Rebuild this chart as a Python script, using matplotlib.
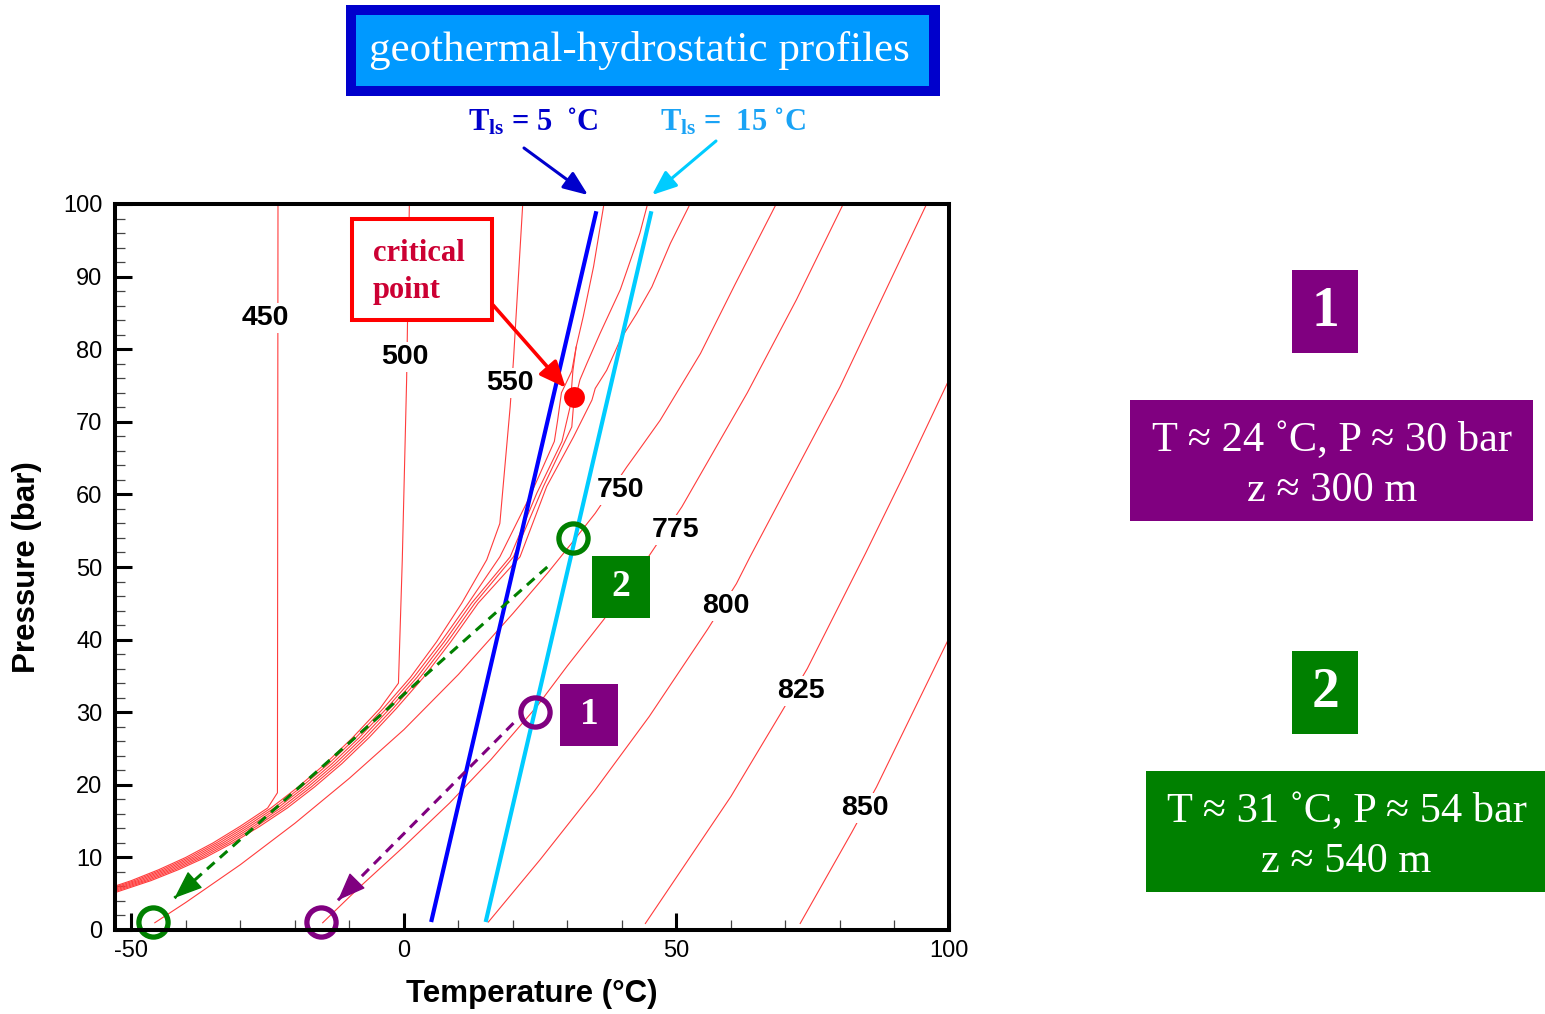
"""CO2 isenthalps in the P-T plane with two geothermal-hydrostatic profiles."""
import numpy as np
import matplotlib
matplotlib.use("Agg")
import matplotlib.pyplot as plt
from matplotlib.patches import Rectangle
from matplotlib.transforms import Affine2D

# isenthalps h [kJ/kg] as (T [degC], P [bar]) polylines
H450_T = [-23.1, -23.2, -25.0, -30.0, -35.0, -40.0, -45.0, -50.0, -60.0]
H450_P = [100.0, 18.9, 16.8, 14.3, 12.0, 10.0, 8.3, 6.8, 4.3]

H500_T = [1.0, 0.5, -0.3, -1.0, -4.4, -9.4, -14.4, -19.4, -24.4, -29.4, -34.4, -39.4,
          -44.4, -49.4, -59.4]
H500_P = [100.0, 75.8, 50.9, 34.0, 30.5, 26.5, 22.9, 19.7, 16.8, 14.3, 12.0, 10.0,
          8.3, 6.8, 4.3]

H550_T = [21.8, 20.1, 19.5, 17.6, 15.2, 10.6, 6.0, 1.2, -3.8, -8.8, -13.8, -18.8, -23.8,
          -28.8, -33.8, -38.8, -43.8, -48.8, -58.8]
H550_P = [100.0, 78.5, 72.1, 56.0, 51.0, 45.0, 39.7, 34.8, 30.5, 26.5, 22.9, 19.7, 16.8,
          14.3, 12.0, 10.0, 8.3, 6.8, 4.3]

H600_T = [36.7, 34.8, 32.9, 31.6, 30.8, 28.9, 28.2, 27.6, 23.1, 17.6, 11.8, 6.8, 1.8, -3.2,
          -8.2, -13.2, -18.2, -23.2, -28.2, -33.2, -38.2, -43.2, -48.2, -58.2]
H600_P = [100.0, 91.4, 84.5, 80.3, 77.0, 74.0, 70.2, 67.3, 59.7, 51.4, 45.0, 39.7, 34.8, 30.5,
          26.5, 22.9, 19.7, 16.8, 14.3, 12.0, 10.0, 8.3, 6.8, 4.3]

H625_T = [31.6, 31.0, 30.5, 29.0, 24.4, 19.5, 12.4, 7.4, 2.4, -2.6, -7.6, -12.6, -17.6,
          -22.6, -27.6, -32.6, -37.6, -42.6, -47.6, -57.6]
H625_P = [80.3, 77.0, 72.1, 67.3, 60.2, 51.4, 45.0, 39.7, 34.8, 30.5, 26.5, 22.9, 19.7,
          16.8, 14.3, 12.0, 10.0, 8.3, 6.8, 4.3]

H650_T = [44.7, 43.3, 39.7, 36.0, 33.6, 32.3, 31.1, 30.8, 25.6, 20.1, 13.0, 8.0, 3.0, -2.0,
          -7.0, -12.0, -17.0, -22.0, -27.0, -32.0, -37.0, -42.0, -47.0, -57.0]
H650_P = [100.0, 96.0, 88.2, 82.2, 78.1, 75.8, 72.1, 69.3, 61.1, 51.4, 45.0, 39.7, 34.8, 30.5,
          26.5, 22.9, 19.7, 16.8, 14.3, 12.0, 10.0, 8.3, 6.8, 4.3]

H700_T = [52.5, 48.9, 45.5, 42.7, 39.7, 37.2, 35.1, 34.5, 31.1, 26.2, 21.3, 13.6, 8.6, 3.6,
          -1.4, -6.4, -11.4, -16.4, -21.4, -26.4, -31.4, -36.4, -41.4, -46.4, -56.4]
H700_P = [100.0, 94.6, 88.6, 84.9, 81.3, 77.1, 74.6, 73.0, 67.9, 61.1, 51.4, 45.0, 39.7, 34.8,
          30.5, 26.5, 22.9, 19.7, 16.8, 14.3, 12.0, 10.0, 8.3, 6.8, 4.3]

H750_T = [68.3, 60.8, 54.4, 47.0, 43.3, 40.9, 35.1, 30.8, 26.4, 20.0, 10.0, 0.0, -10.0,
          -20.0, -30.0, -40.0, -45.7]
H750_P = [100.0, 89.0, 79.4, 70.2, 66.3, 63.8, 57.4, 53.3, 49.2, 43.6, 35.2, 27.6, 20.9,
          14.7, 9.0, 3.8, 1.0]

H775_T = [80.6, 72.0, 63.0, 51.0, 44.5, 36.7, 30.0, 24.4, 16.0, 8.4, 0.0, -8.0, -14.9]
H775_P = [100.0, 86.8, 74.0, 58.3, 51.0, 42.8, 36.4, 30.8, 23.5, 17.5, 11.5, 6.0, 1.0]

H800_T = [95.9, 80.0, 63.5, 61.0, 55.7, 45.0, 35.0, 25.0, 15.5]
H800_P = [100.0, 74.8, 51.4, 47.7, 41.4, 29.4, 19.2, 9.7, 1.1]

H825_T = [100.0, 92.0, 84.7, 74.0, 69.1, 60.0, 44.3]
H825_P = [75.8, 63.1, 51.9, 36.0, 29.8, 18.4, 0.9]

H850_T = [100.0, 86.7, 82.2, 72.7]
H850_P = [40.2, 19.7, 13.5, 0.9]

ISENTHALPS = [(H450_T, H450_P), (H500_T, H500_P), (H550_T, H550_P), (H600_T, H600_P),
              (H625_T, H625_P), (H650_T, H650_P), (H700_T, H700_P), (H750_T, H750_P),
              (H775_T, H775_P), (H800_T, H800_P), (H825_T, H825_P), (H850_T, H850_P)]

LEVEL_LABELS = ["450", "500", "550", "750", "775", "800", "825", "850"]
LABEL_T = [-25.5, 0.2, 19.5, 39.7, 49.8, 59.1, 72.9, 84.5]
LABEL_P = [84.3, 78.9, 75.3, 60.6, 55.1, 44.6, 32.9, 16.8]

# geothermal-hydrostatic profiles, surface temperature 5 and 15 degC
PROFILE5_T = [5.0, 35.3]
PROFILE5_P = [1.1, 99.0]
PROFILE15_T = [15.0, 45.4]
PROFILE15_P = [1.1, 99.0]

CRIT_T, CRIT_P = 31.2, 73.4

# reservoir states (1, 2) and their end states after expansion to ~1 bar
STATE_T = [24.0, 31.0]
STATE_P = [30.0, 54.0]
END_T = [-15.2, -46.1]
END_P = [1.1, 1.1]
ARROW_FROM_T = [20.1, 26.3]
ARROW_FROM_P = [28.5, 50.0]
ARROW_TO_T = [-12.1, -42.1]
ARROW_TO_P = [4.1, 4.4]
STATE_COLORS = ["#800080", "#008000"]
STATE_TEXT = ["T \u2248 24 \u02daC, P \u2248 30 bar\nz \u2248 300 m",
              "T \u2248 31 \u02daC, P \u2248 54 bar\nz \u2248 540 m"]

W, H = 1545, 1014
plt.rcParams["font.family"] = ["Liberation Sans", "DejaVu Sans"]
plt.rcParams["axes.unicode_minus"] = False
plt.rcParams["mathtext.fontset"] = "custom"
plt.rcParams["mathtext.bf"] = "Liberation Serif:bold"
plt.rcParams["mathtext.rm"] = "Liberation Serif"
SERIF = ["Liberation Serif", "DejaVu Serif"]

fig = plt.figure(figsize=(W / 100, H / 100), dpi=100)
px = Affine2D().scale(1 / W, -1 / H).translate(0, 1) + fig.transFigure
ax = fig.add_axes([115 / W, 1 - 930 / H, (949 - 115) / W, (930 - 204) / H])

for t, p in ISENTHALPS:
    ax.plot(t, p, color="#ff3c3c", lw=0.8, zorder=2)
for s, t, p in zip(LEVEL_LABELS, LABEL_T, LABEL_P):
    ax.text(t, p, s, ha="center", va="center", fontsize=20.5, fontweight="bold",
            bbox=dict(fc="white", ec="none", pad=1.5), zorder=3)

ax.plot(PROFILE5_T, PROFILE5_P, color="#0000ff", lw=3.0, zorder=4, solid_capstyle="butt")
ax.plot(PROFILE15_T, PROFILE15_P, color="#00ccff", lw=3.0, zorder=4, solid_capstyle="butt")

# expansion paths, dashed with a solid head
for i in range(2):
    c = STATE_COLORS[i]
    x0, y0 = ARROW_FROM_T[i], ARROW_FROM_P[i]
    x1, y1 = ARROW_TO_T[i], ARROW_TO_P[i]
    ax.plot([x0, x1], [y0, y1], color=c, lw=2.2, dashes=(3.3, 2.3), zorder=5)
    ax.annotate("", xy=(x1, y1), xytext=(x1 + 0.05 * (x0 - x1), y1 + 0.05 * (y0 - y1)),
                arrowprops=dict(arrowstyle="-|>,head_length=1.8,head_width=0.7",
                                color=c, lw=1, shrinkA=0, shrinkB=0), zorder=5)
    ax.plot(STATE_T[i], STATE_P[i], "o", ms=21, mfc="none", mec=c, mew=3.8,
            zorder=6, clip_on=False)
    ax.plot(END_T[i], END_P[i], "o", ms=21, mfc="none", mec=c, mew=3.8,
            zorder=6, clip_on=False)

ax.plot(CRIT_T, CRIT_P, "o", ms=15, color="#ff0000", mec="none", zorder=6)

ax.set_xlim(-53, 100)
ax.set_ylim(0, 100)
ax.set_xticks([-50, 0, 50, 100])
ax.set_xticks(np.arange(-50, 101, 10), minor=True)
ax.set_yticks(np.arange(0, 101, 10))
ax.set_yticks(np.arange(0, 101, 2), minor=True)
ax.tick_params(which="major", direction="in", length=12, width=2.2, labelsize=17,
               top=False, right=False)
ax.tick_params(which="minor", direction="in", length=7, width=0.9, color="#444444",
               top=False, right=False)
ax.tick_params(axis="x", which="major", pad=7)
ax.tick_params(axis="y", which="major", pad=9)
for sp in ax.spines.values():
    sp.set_linewidth(2.9)
    sp.set_zorder(10)

fig.text(532, 994, "Temperature (\u00b0C)", transform=px, ha="center", va="center",
         fontsize=22.5, fontweight="bold")
fig.text(27, 567, "Pressure (bar)", transform=px, ha="center", va="center",
         rotation=90, fontsize=22.5, fontweight="bold")

# title banner
fig.add_artist(Rectangle((346, 5), 594, 91, transform=px, fc="#0000cc", ec="none"))
fig.add_artist(Rectangle((356, 15), 573, 71, transform=px, fc="#0099ff", ec="none"))
fig.text(639, 51, "geothermal-hydrostatic profiles", transform=px, ha="center",
         va="center", fontsize=31, color="white", family=SERIF)

# profile labels
TLS = r"$\mathbf{T_{ls}}$"
fig.text(533, 122, TLS + " = 5  \u02daC", transform=px, ha="center",
         va="center", fontsize=22, fontweight="bold", color="#0000cc", family=SERIF)
fig.text(733, 122, TLS + " =  15 \u02daC", transform=px, ha="center",
         va="center", fontsize=22, fontweight="bold", color="#1aa3f5", family=SERIF)
ax.annotate("", xy=(588, 195), xycoords=px, xytext=(524, 148), textcoords=px,
            arrowprops=dict(arrowstyle="-|>,head_length=1.5,head_width=0.6",
                            color="#0000cc", lw=2.2, shrinkA=0, shrinkB=0),
            annotation_clip=False)
ax.annotate("", xy=(652, 195), xycoords=px, xytext=(716, 141), textcoords=px,
            arrowprops=dict(arrowstyle="-|>,head_length=1.5,head_width=0.6",
                            color="#00ccff", lw=2.2, shrinkA=0, shrinkB=0),
            annotation_clip=False)

# critical point callout
fig.add_artist(Rectangle((352, 219), 140, 101, transform=px, fc="white",
                         ec="#ff0000", lw=2.9))
fig.text(373, 272, "critical\npoint", transform=px, ha="left", va="center",
         fontsize=22, fontweight="bold", color="#cc0033", family=SERIF,
         linespacing=1.32)
ax.annotate("", xy=(CRIT_T, CRIT_P), xytext=(493, 305), textcoords=px,
            arrowprops=dict(arrowstyle="-|>,head_length=1.6,head_width=0.7",
                            color="#ff0000", lw=2.6, shrinkA=0, shrinkB=9),
            zorder=7)

# state tags inside the plot
for (x0, y0), s, c in [((560, 684), "1", STATE_COLORS[0]), ((592, 556), "2", STATE_COLORS[1])]:
    fig.add_artist(Rectangle((x0, y0), 58, 62, transform=px, fc=c, ec="none"))
    fig.text(x0 + 29, y0 + 31, s, transform=px, ha="center", va="center",
             fontsize=27, fontweight="bold", color="white", family=SERIF)

# state summaries on the right
for s, c, y0 in [("1", STATE_COLORS[0], 270), ("2", STATE_COLORS[1], 651)]:
    fig.add_artist(Rectangle((1292, y0), 66, 83, transform=px, fc=c, ec="none"))
    fig.text(1325, y0 + 42, s, transform=px, ha="center", va="center",
             fontsize=40, fontweight="bold", color="white", family=SERIF)
for txt, c, (x0, y0, w) in zip(STATE_TEXT, STATE_COLORS,
                               [(1130, 400, 403), (1146, 771, 399)]):
    fig.add_artist(Rectangle((x0, y0), w, 121, transform=px, fc=c, ec="none"))
    fig.text(x0 + w / 2 + 1, y0 + 66, txt, transform=px, ha="center", va="center",
             fontsize=30.5, color="white", family=SERIF, linespacing=1.4)

fig.savefig("out.png", dpi=100)
